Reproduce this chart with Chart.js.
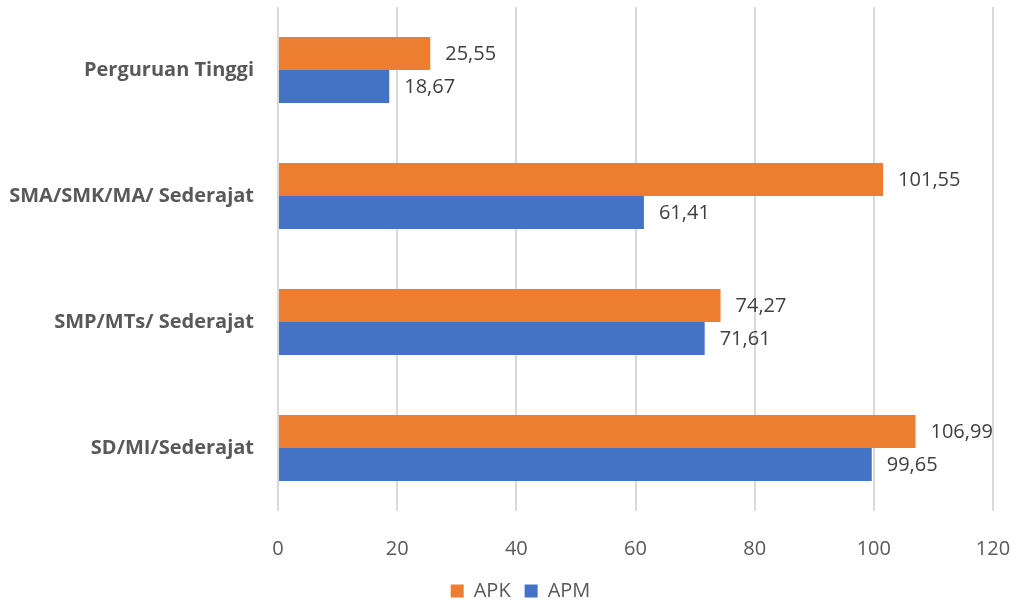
<!DOCTYPE html>
<html>
<head>
<meta charset="utf-8">
<script src="https://cdn.jsdelivr.net/npm/chart.js@4/dist/chart.umd.min.js"></script>
<style>
  html, body { margin: 0; padding: 0; background: #ffffff; }
  #wrap { width: 1016px; height: 602px; position: relative; }
</style>
</head>
<body>
<div id="wrap"><canvas id="chart"></canvas></div>
<script>
// Education levels (top to bottom) and enrollment ratios
const categories = ['Perguruan Tinggi', 'SMA/SMK/MA/ Sederajat', 'SMP/MTs/ Sederajat', 'SD/MI/Sederajat'];
const apkValues = [25.55, 101.55, 74.27, 106.99];
const apmValues = [18.67, 61.41, 71.61, 99.65];
const xTicks = [0, 20, 40, 60, 80, 100, 120];

const FONT = "'Open Sans', 'Liberation Sans', sans-serif";

// Writes each bar's value just past its end, using a decimal comma
const valueLabels = {
  id: 'valueLabels',
  afterDatasetsDraw(chart) {
    const ctx = chart.ctx;
    ctx.save();
    ctx.font = `20px ${FONT}`;
    ctx.fillStyle = '#404040';
    ctx.textAlign = 'left';
    ctx.textBaseline = 'middle';
    chart.data.datasets.forEach((ds, i) => {
      chart.getDatasetMeta(i).data.forEach((bar, j) => {
        const txt = ds.data[j].toFixed(2).replace('.', ',');
        ctx.fillText(txt, bar.x + 15, bar.y + 1);
      });
    });
    ctx.restore();
  }
};

// Centres the legend on the page rather than on the padded chart box
const legendShift = {
  id: 'legendShift',
  afterLayout(chart) {
    if (chart.legend) {
      chart.legend.left += 20;
      chart.legend.right += 20;
    }
  }
};

new Chart(document.getElementById('chart'), {
  type: 'bar',
  data: {
    labels: categories,
    datasets: [
      { label: 'APK', data: apkValues, backgroundColor: '#ED7D31', borderWidth: 0 },
      { label: 'APM', data: apmValues, backgroundColor: '#4472C4', borderWidth: 0 }
    ]
  },
  options: {
    indexAxis: 'y',
    responsive: true,
    maintainAspectRatio: false,
    animation: false,
    categoryPercentage: 0.525,
    barPercentage: 1.0,
    layout: { padding: { top: 7, right: 23, left: 8, bottom: -9 } },
    scales: {
      x: {
        min: 0, max: 120,
        afterBuildTicks(axis) { axis.ticks = xTicks.map(v => ({ value: v })); },
        afterFit(axis) { axis.height = 56; axis.paddingLeft = 0; axis.paddingRight = 0; },
        grid: { color: '#d9d9d9', lineWidth: 2, drawTicks: false },
        border: { display: false },
        ticks: { color: '#595959', font: { family: FONT, size: 20 }, padding: 26 }
      },
      y: {
        afterFit(axis) { axis.width = 270; axis.paddingTop = 0; axis.paddingBottom = 0; },
        grid: { display: false, drawTicks: false },
        border: { display: false },
        ticks: { color: '#595959', font: { family: FONT, size: 20, weight: 'bold' }, padding: 24 }
      }
    },
    plugins: {
      legend: {
        position: 'bottom',
        labels: {
          color: '#595959',
          font: { family: FONT, size: 20 },
          boxWidth: 13, boxHeight: 13,
          padding: 14
        }
      },
      tooltip: { enabled: false }
    }
  },
  plugins: [valueLabels, legendShift]
});
</script>
</body>
</html>
